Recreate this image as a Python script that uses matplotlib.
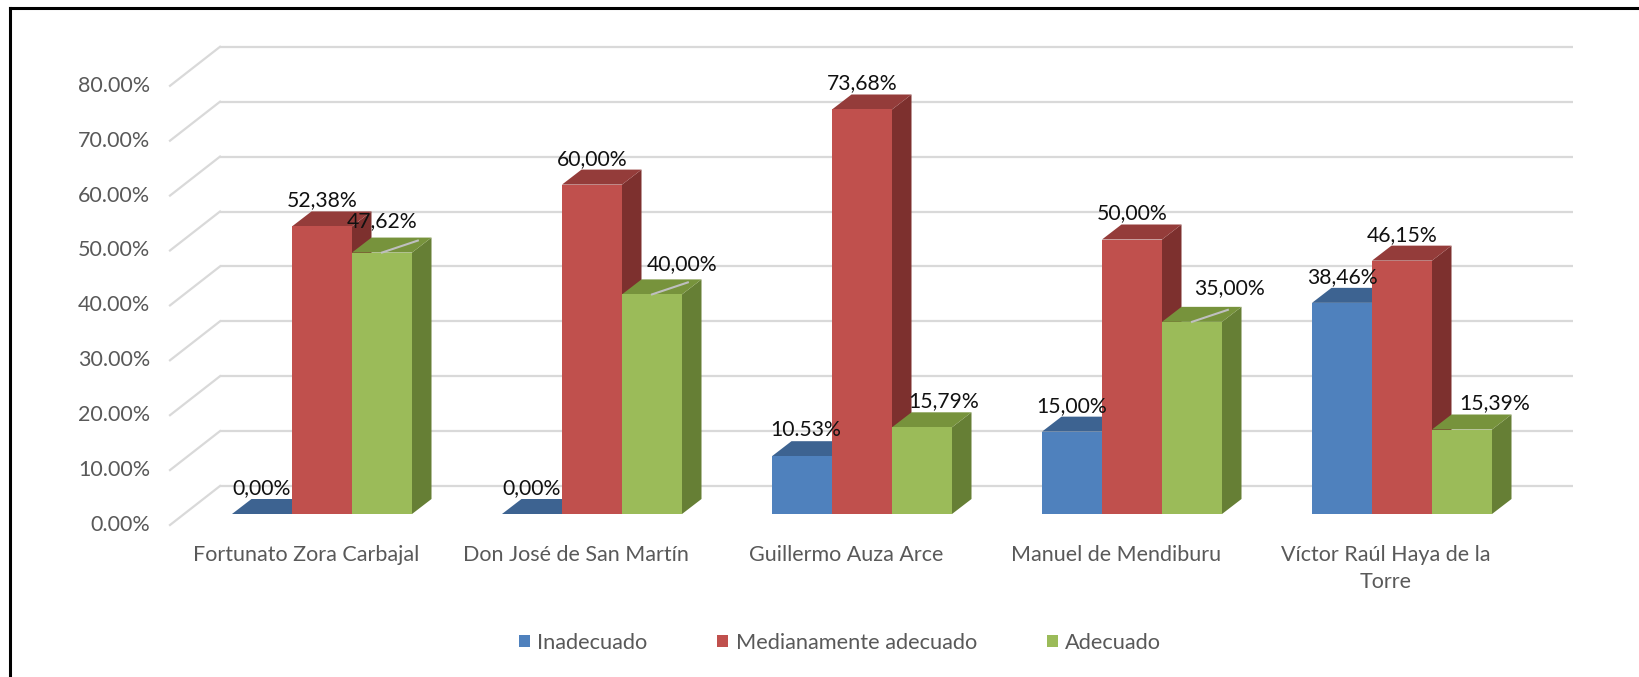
import matplotlib
matplotlib.use("Agg")
import matplotlib.pyplot as plt
from matplotlib.patches import Polygon, Patch
from matplotlib.lines import Line2D

categories = ["Fortunato Zora Carbajal", "Don José de San Martín", "Guillermo Auza Arce",
              "Manuel de Mendiburu", "Víctor Raúl Haya de la\nTorre"]
series_names = ["Inadecuado", "Medianamente adecuado", "Adecuado"]
inadecuado = [0.00, 0.00, 10.53, 15.00, 38.46]
medianamente = [52.38, 60.00, 73.68, 50.00, 46.15]
adecuado = [47.62, 40.00, 15.79, 35.00, 15.39]
value_labels = [
    ["0,00%", "0,00%", "10.53%", "15,00%", "38,46%"],
    ["52,38%", "60,00%", "73,68%", "50,00%", "46,15%"],
    ["47,62%", "40,00%", "15,79%", "35,00%", "15,39%"],
]
yticks = [0, 10, 20, 30, 40, 50, 60, 70, 80]
ytick_labels = ["0.00%", "10.00%", "20.00%", "30.00%", "40.00%", "50.00%", "60.00%", "70.00%", "80.00%"]

# manual label nudges (pixels) as placed in the original
label_dx = [[0, 0, 4, 0, 0], [0, 0, 0, 0, 0], [0, 30, 22, 37, 33]]
label_dy = [[0, 0, 0, 0, 0], [0, 0, 0, 0, 0], [5, 4, 0, 8, 0]]

front_colors = ["#4F81BD", "#C0504D", "#9BBB59"]
top_colors = ["#3D6391", "#943C3A", "#77933C"]
side_colors = ["#355781", "#7D302E", "#667F35"]

W, H = 1639, 677
fig = plt.figure(figsize=(W / 100, H / 100), dpi=100)
ax = fig.add_axes([0, 0, 1, 1])
ax.set_axis_off()

PX_X = 270.0
PX_Y = 5.49
x0_px, y0_px = 322.0, 514.0
ax.set_xlim(-x0_px / PX_X, (W - x0_px) / PX_X)
ax.set_ylim(-(H - y0_px) / PX_Y, y0_px / PX_Y)

bw = 60 / PX_X
bdx, bdy = 19.5 / PX_X, 15.0 / PX_Y
back_dx, back_dy = 36 / PX_X, 28 / PX_Y
full_dx, full_dy = 50 / PX_X, 39 / PX_Y
wall_left = (220 - x0_px) / PX_X
wall_right = (1573 - x0_px) / PX_X

grid_color = "#D9D9D9"
for k, v in enumerate(yticks):
    yb = v + back_dy
    ax.plot([wall_left, wall_right], [yb, yb], color=grid_color, lw=1.6, zorder=1,
            solid_capstyle="butt")
    ax.plot([wall_left - full_dx, wall_left], [yb - full_dy, yb], color=grid_color, lw=1.6,
            zorder=1)
    ax.text((150 - x0_px) / PX_X, yb - full_dy, ytick_labels[k],
            ha="right", va="center", fontsize=15.5, color="#595959", family="Lato")

series = [inadecuado, medianamente, adecuado]
z = 3
for i in range(len(categories)):
    for s, vals in enumerate(series):
        h = vals[i]
        xc = i + (s - 1) * bw
        xl, xr = xc - bw / 2, xc + bw / 2
        side = Polygon([(xr, 0), (xr, h), (xr + bdx, h + bdy), (xr + bdx, bdy)],
                       closed=True, facecolor=side_colors[s], edgecolor="none", zorder=z)
        top = Polygon([(xl, h), (xr, h), (xr + bdx, h + bdy), (xl + bdx, h + bdy)],
                      closed=True, facecolor=top_colors[s], edgecolor="none", zorder=z)
        ax.add_patch(side)
        ax.add_patch(top)
        ax.bar([xc], [h], width=bw, bottom=0, color=front_colors[s], edgecolor="none",
               zorder=z + 0.5)
        z += 1
        if s == 2 and h > 30:
            ax.plot([xc, xr + bdx * 0.3], [h, h + bdy * 0.8], color="#BFBFBF", lw=1.5,
                    zorder=z + 0.5)
        ax.text(xc + label_dx[s][i] / PX_X, h + bdy + (11 + label_dy[s][i]) / PX_Y,
                value_labels[s][i], ha="center", va="center",
                fontsize=15.2, color="#111111", family="Lato", zorder=50)

for i, cat in enumerate(categories):
    ax.text(i - 16 / PX_X, -(545 - y0_px) / PX_Y, cat, ha="center", va="top",
            fontsize=15.5, color="#595959", family="Lato", linespacing=1.42)

handles = [Patch(facecolor=c, edgecolor="none") for c in front_colors]
fig.legend(handles, series_names, loc="center", bbox_to_anchor=(840 / W, 1 - 643 / H),
           ncol=3, frameon=False, handlelength=0.5, handleheight=0.5,
           handletextpad=0.35, columnspacing=3.2, labelcolor="#595959",
           prop={"family": "Lato", "size": 15.7})

fig.add_artist(Line2D([10 / W, 10 / W], [0, 1 - 8 / H], color="black", lw=2.2,
                      transform=fig.transFigure))
fig.add_artist(Line2D([10 / W, 1], [1 - 8 / H, 1 - 8 / H], color="black", lw=2.2,
                      transform=fig.transFigure))

fig.savefig("out.png", dpi=100, facecolor="white")
